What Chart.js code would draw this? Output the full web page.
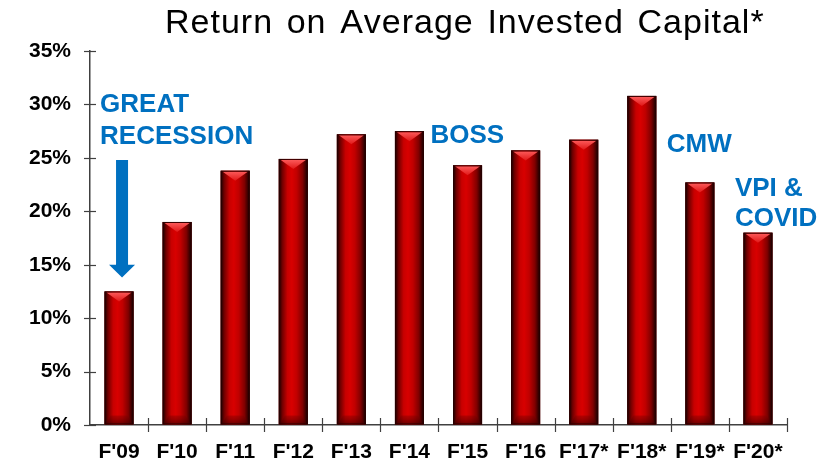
<!DOCTYPE html>
<html><head><meta charset="utf-8">
<script src="https://cdn.jsdelivr.net/npm/chart.js@4.4.0/dist/chart.umd.min.js"></script>
<style>html,body{margin:0;padding:0;background:#fff;}#wrap{width:837px;height:469px;position:relative;}</style>
</head><body><div id="wrap"><canvas id="c"></canvas></div>
<script>
const categories = ["F'09","F'10","F'11","F'12","F'13","F'14","F'15","F'16","F'17*","F'18*","F'19*","F'20*"];
const roicValues = [12.5, 19.0, 23.8, 24.9, 27.2, 27.5, 24.3, 25.7, 26.7, 30.8, 22.7, 18.0];
const yTickValues = [0, 5, 10, 15, 20, 25, 30, 35];
const titleText = "Return on Average Invested Capital*";
const noteRecession = ["GREAT", "RECESSION"];
const noteBoss = ["BOSS"];
const noteCmw = ["CMW"];
const noteVpi = ["VPI &", "COVID"];

const FONT = "'Liberation Sans', Arial, Helvetica, sans-serif";
const BLUE = "#0070C0";

const decor = {
  id: 'decor',
  afterDatasetsDraw(chart) {
    const ctx = chart.ctx;
    const meta = chart.getDatasetMeta(0);
    meta.data.forEach(el => {
      const p = el.getProps(['x','y','base','width'], true);
      const l = p.x - p.width/2, r = p.x + p.width/2, t = p.y, b = p.base, w = p.width;
      ctx.save();
      const g = ctx.createLinearGradient(l, 0, r, 0);
      g.addColorStop(0, '#140000');
      g.addColorStop(0.12, '#700000');
      g.addColorStop(0.3, '#c80000');
      g.addColorStop(0.45, '#d80000');
      g.addColorStop(0.62, '#c00000');
      g.addColorStop(0.82, '#800000');
      g.addColorStop(1, '#100000');
      ctx.fillStyle = g;
      ctx.fillRect(l, t, w, b - t);
      const bev = Math.min(10, (b - t) / 3);
      const tg = ctx.createLinearGradient(0, t, 0, t + bev);
      tg.addColorStop(0, '#ff6060');
      tg.addColorStop(1, '#e01818');
      ctx.fillStyle = tg;
      ctx.beginPath();
      ctx.moveTo(l + 2, t + 1);
      ctx.lineTo(r - 2, t + 1);
      ctx.lineTo(p.x, t + bev);
      ctx.closePath();
      ctx.fill();
      const bg = ctx.createLinearGradient(0, b - 9, 0, b);
      bg.addColorStop(0, 'rgba(120,0,0,0.35)');
      bg.addColorStop(1, 'rgba(60,0,0,0.7)');
      ctx.fillStyle = bg;
      ctx.beginPath();
      ctx.moveTo(l + 1, b);
      ctx.lineTo(l + 6, b - 9);
      ctx.lineTo(r - 6, b - 9);
      ctx.lineTo(r - 1, b);
      ctx.closePath();
      ctx.fill();
      ctx.strokeStyle = 'rgba(40,0,0,0.9)';
      ctx.lineWidth = 1;
      ctx.strokeRect(l + 0.5, t + 0.5, w - 1, b - t - 1);
      ctx.restore();
    });
  },
  afterDraw(chart) {
    const ctx = chart.ctx;
    const xs = chart.scales.x, ys = chart.scales.y;
    const ca = chart.chartArea;
    ctx.save();
    ctx.strokeStyle = '#404040';
    ctx.lineWidth = 1.2;
    yTickValues.forEach(v => {
      const py = Math.round(ys.getPixelForValue(v)) + 0.5;
      ctx.beginPath(); ctx.moveTo(ca.left - 6, py); ctx.lineTo(ca.left + 6, py); ctx.stroke();
    });
    const step = xs.getPixelForValue(1) - xs.getPixelForValue(0);
    for (let i = 1; i <= categories.length; i++) {
      const px = Math.round(xs.getPixelForValue(i) - step / 2) + 0.5;
      ctx.beginPath(); ctx.moveTo(px, ca.bottom - 7); ctx.lineTo(px, ca.bottom + 7); ctx.stroke();
    }
    // title
    ctx.fillStyle = '#000';
    ctx.font = "34px " + FONT;
    ctx.textAlign = 'left';
    ctx.textBaseline = 'middle';
    const words = titleText.split(' ');
    const ls = 1.0;
    const widths = words.map(wd => ctx.measureText(wd).width + ls * (wd.length - 1));
    const total = 598;
    const gap = (total - widths.reduce((a, b) => a + b, 0)) / (words.length - 1);
    let cx = 165;
    words.forEach(wd => {
      for (const ch of wd) {
        ctx.fillText(ch, cx, 24);
        cx += ctx.measureText(ch).width + ls;
      }
      cx += gap - ls;
    });
    // annotations
    ctx.fillStyle = BLUE;
    ctx.font = "bold 26px " + FONT;
    ctx.textAlign = 'left';
    const xAt = i => xs.getPixelForValue(i);
    const yAt = v => ys.getPixelForValue(v);
    ctx.fillText(noteRecession[0], xAt(0) - 19, yAt(29.95));
    ctx.fillText(noteRecession[1], xAt(0) - 19, yAt(26.95));
    ctx.fillText(noteBoss[0], xAt(5) + 21, yAt(27.1));
    ctx.fillText(noteCmw[0], xAt(9) + 25, yAt(26.2));
    ctx.fillText(noteVpi[0], xAt(10) + 35, yAt(22.1));
    ctx.fillText(noteVpi[1], xAt(10) + 35, yAt(19.3));
    const ax = xAt(0) + 3;
    const yTop = yAt(24.8), yHead = yAt(15.0), yTip = yAt(13.8);
    ctx.beginPath();
    ctx.moveTo(ax - 6, yTop);
    ctx.lineTo(ax + 6, yTop);
    ctx.lineTo(ax + 6, yHead);
    ctx.lineTo(ax + 13, yHead);
    ctx.lineTo(ax, yTip);
    ctx.lineTo(ax - 13, yHead);
    ctx.lineTo(ax - 6, yHead);
    ctx.closePath();
    ctx.fill();
    ctx.restore();
  }
};

new Chart(document.getElementById('c'), {
  type: 'bar',
  data: {
    labels: categories,
    datasets: [{ data: roicValues, backgroundColor: '#c00000', borderWidth: 0, categoryPercentage: 1.0, barPercentage: 0.5 }]
  },
  options: {
    responsive: true,
    maintainAspectRatio: false,
    animation: false,
    layout: { padding: { top: 51, right: 50, bottom: 0, left: 0 } },
    plugins: { legend: { display: false }, tooltip: { enabled: false }, title: { display: false } },
    scales: {
      x: {
        grid: { display: true, drawOnChartArea: false, drawTicks: false, offset: true, color: 'rgba(0,0,0,0)' },
        border: { display: true, color: '#404040', width: 1.5 },
        ticks: { color: '#000', font: { family: FONT, size: 21, weight: 'bold' }, padding: 15, maxRotation: 0, autoSkip: false },
        afterFit(s) { s.height = 44; }
      },
      y: {
        min: 0, max: 35,
        afterBuildTicks(s) { s.ticks = yTickValues.map(v => ({ value: v })); },
        grid: { display: true, drawOnChartArea: false, drawTicks: false, color: 'rgba(0,0,0,0)' },
        border: { display: true, color: '#404040', width: 1.5 },
        ticks: { color: '#000', font: { family: FONT, size: 21, weight: 'bold' }, padding: 19, callback: v => v + '%' },
        afterFit(s) { s.width = 90; }
      }
    }
  },
  plugins: [decor]
});
</script></body></html>
